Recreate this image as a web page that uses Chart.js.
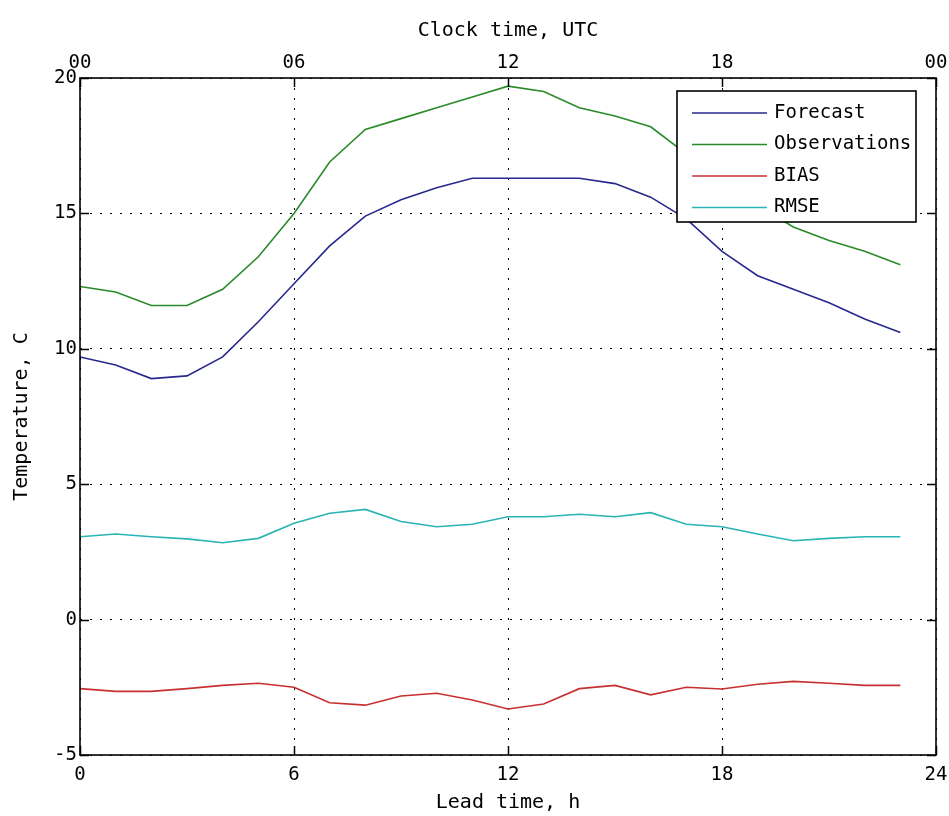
<!DOCTYPE html>
<html>
<head>
<meta charset="utf-8">
<script src="https://cdn.jsdelivr.net/npm/chart.js@4/dist/chart.umd.min.js"></script>
<style>
  html, body { margin: 0; padding: 0; background: #fff; }
  #wrap { width: 949px; height: 816px; position: relative; }
</style>
</head>
<body>
<div id="wrap"><canvas id="c" width="949" height="816"></canvas></div>
<script>
// ---- data ----
const leadHours = [0,1,2,3,4,5,6,7,8,9,10,11,12,13,14,15,16,17,18,19,20,21,22,23];
const forecast = [9.7,9.4,8.9,9.0,9.7,11.0,12.4,13.8,14.9,15.5,15.95,16.3,16.3,16.3,16.3,16.1,15.6,14.8,13.6,12.7,12.2,11.7,11.1,10.6];
const observations = [12.3,12.1,11.6,11.6,12.2,13.4,15.0,16.9,18.1,18.5,18.9,19.3,19.7,19.5,18.9,18.6,18.2,17.2,16.2,15.3,14.5,14.0,13.6,13.1];
const bias = [-2.55,-2.65,-2.65,-2.55,-2.43,-2.35,-2.5,-3.07,-3.16,-2.82,-2.72,-2.97,-3.3,-3.12,-2.55,-2.43,-2.78,-2.5,-2.56,-2.39,-2.28,-2.35,-2.43,-2.43];
const rmse = [3.06,3.16,3.06,2.98,2.84,3.0,3.56,3.93,4.07,3.62,3.43,3.52,3.8,3.8,3.89,3.8,3.95,3.52,3.43,3.16,2.91,3.0,3.06,3.06];
const leadTicks = [0, 6, 12, 18, 24];
const clockTickLabels = ['00', '06', '12', '18', '00'];
const tempTicks = [-5, 0, 5, 10, 15, 20];
const seriesNames = ['Forecast', 'Observations', 'BIAS', 'RMSE'];
const seriesColors = ['#28288e', '#2a8a2a', '#c83030', '#2ab4b4'];

const FONT = '"DejaVu Sans Mono", monospace';
const toXY = arr => arr.map((v, i) => ({ x: leadHours[i], y: v }));
const noPad = s => { s.paddingLeft = 0; s.paddingRight = 0; s.paddingTop = 0; s.paddingBottom = 0; };

const framePlugin = {
  id: 'frame',
  afterDatasetsDraw(chart) {
    const ctx = chart.ctx, a = chart.chartArea;
    const xs = chart.scales.x, ys = chart.scales.y;
    const L = 9;
    ctx.save();
    ctx.strokeStyle = '#000';
    ctx.lineWidth = 1.5;
    ctx.beginPath();
    leadTicks.forEach(v => {
      const px = Math.round(xs.getPixelForValue(v)) + 0.5;
      ctx.moveTo(px, a.bottom); ctx.lineTo(px, a.bottom - L);
      ctx.moveTo(px, a.top); ctx.lineTo(px, a.top + L);
    });
    tempTicks.forEach(v => {
      const py = Math.round(ys.getPixelForValue(v)) + 0.5;
      ctx.moveTo(a.left, py); ctx.lineTo(a.left + L, py);
      ctx.moveTo(a.right, py); ctx.lineTo(a.right - L, py);
    });
    ctx.stroke();
    ctx.lineWidth = 1.6;
    ctx.strokeRect(a.left, a.top, a.right - a.left, a.bottom - a.top);
    ctx.restore();
  },
  afterDraw(chart) {
    const ctx = chart.ctx, a = chart.chartArea;
    const bx = a.right - 259, by = a.top + 13, bw = 239, bh = 131;
    ctx.save();
    ctx.fillStyle = '#fff';
    ctx.fillRect(bx, by, bw, bh);
    ctx.strokeStyle = '#000';
    ctx.lineWidth = 1.6;
    ctx.strokeRect(bx, by, bw, bh);
    ctx.font = '19px ' + FONT;
    ctx.textBaseline = 'middle';
    ctx.fillStyle = '#000';
    chart.data.datasets.forEach((ds, i) => {
      const yy = by + 22 + i * 31.5;
      ctx.strokeStyle = ds.borderColor;
      ctx.lineWidth = 1.5;
      ctx.beginPath();
      ctx.moveTo(bx + 15, yy); ctx.lineTo(bx + 90, yy);
      ctx.stroke();
      ctx.fillText(ds.label, bx + 97, yy);
    });
    ctx.restore();
  }
};

const datasets = [forecast, observations, bias, rmse].map((arr, i) => ({
  label: seriesNames[i],
  data: toXY(arr),
  borderColor: seriesColors[i],
  backgroundColor: seriesColors[i],
  borderWidth: 1.6,
  pointRadius: 0,
  tension: 0,
  fill: false
}));

new Chart(document.getElementById('c'), {
  type: 'line',
  data: { datasets },
  plugins: [framePlugin],
  options: {
    responsive: false,
    animation: false,
    layout: { padding: { left: 0, right: 13, top: 0, bottom: 0 } },
    plugins: { legend: { display: false }, tooltip: { enabled: false } },
    scales: {
      x: {
        type: 'linear', position: 'bottom', min: 0, max: 24,
        afterBuildTicks: s => { s.ticks = leadTicks.map(v => ({ value: v })); },
        afterFit: s => { s.height = 61; noPad(s); },
        ticks: { color: '#000', font: { family: FONT, size: 19 }, padding: 9, maxRotation: 0 },
        grid: { color: '#000', lineWidth: 1, drawTicks: false },
        border: { display: false, dash: [2, 8] },
        title: { display: true, text: 'Lead time, h', color: '#000', font: { family: FONT, size: 20 }, padding: { top: 0, bottom: 1 } }
      },
      x2: {
        type: 'linear', position: 'top', min: 0, max: 24,
        afterBuildTicks: s => { s.ticks = leadTicks.map(v => ({ value: v })); },
        afterFit: s => { s.height = 78; noPad(s); },
        ticks: { color: '#000', font: { family: FONT, size: 19 }, padding: 4, maxRotation: 0,
                 callback: (v, i) => clockTickLabels[i] },
        grid: { display: false, drawTicks: false },
        border: { display: false },
        title: { display: true, text: 'Clock time, UTC', color: '#000', font: { family: FONT, size: 20 }, padding: { top: 19, bottom: 0 } }
      },
      y: {
        type: 'linear', position: 'left', min: -5, max: 20,
        afterBuildTicks: s => { s.ticks = tempTicks.map(v => ({ value: v })); },
        afterFit: s => { s.width = 80; noPad(s); },
        ticks: { color: '#000', font: { family: FONT, size: 19 }, padding: 3 },
        grid: { color: '#000', lineWidth: 1, drawTicks: false },
        border: { display: false, dash: [2, 8] },
        title: { display: true, text: 'Temperature, C', color: '#000', font: { family: FONT, size: 20 }, padding: { top: 10, bottom: 0 } }
      }
    }
  }
});
</script>
</body>
</html>
